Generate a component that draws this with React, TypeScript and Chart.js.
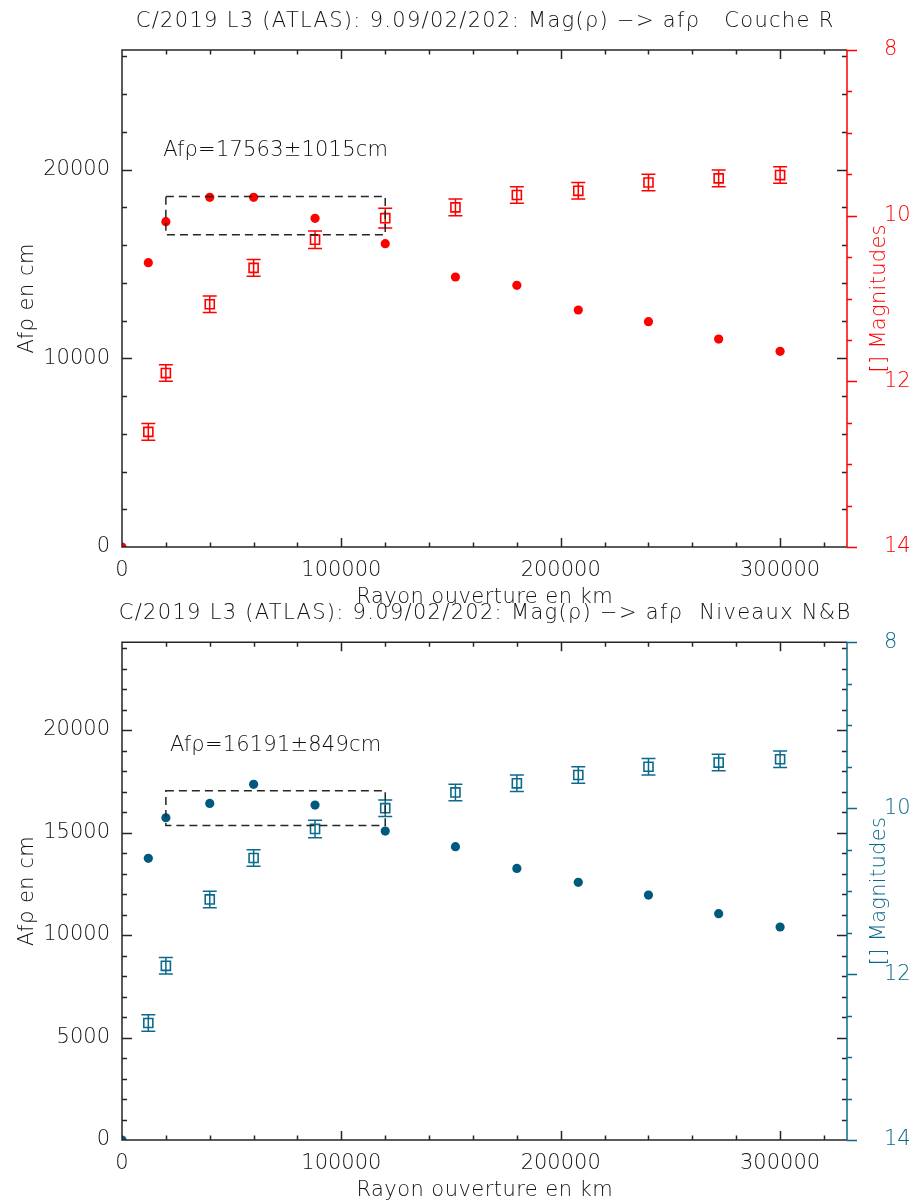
import React, { useEffect, useRef } from 'react';
import { Chart, registerables } from 'chart.js';

Chart.register(...registerables);

const FONT_FAMILY = '"DejaVu Sans", "Liberation Sans", sans-serif';
const FONT_SIZE = 21;
const FONT_WEIGHT = '300';
const TEXT_COLOR = '#111111';
const AXIS_COLOR = '#262626';

// aperture radius (km)
const radiusKm = [12000, 20000, 40000, 60000, 88000, 120000, 152000, 180000, 208000, 240000, 272000, 300000];

// Panel 1 : Couche R
const afrhoR = [15070, 17240, 18530, 18530, 17420, 16075, 14310, 13870, 12560, 11940, 11020, 10370];
const magR = [12.61, 11.9, 11.07, 10.63, 10.29, 10.03, 9.9, 9.75, 9.7, 9.6, 9.55, 9.51];
const magErrR = [0.1, 0.1, 0.1, 0.1, 0.105, 0.12, 0.1, 0.1, 0.1, 0.1, 0.1, 0.1];
const meanR = 17563;
const sigmaR = 1015;

// Panel 2 : Niveaux N&B
const afrhoNB = [13740, 15720, 16420, 17350, 16340, 15070, 14310, 13250, 12570, 11950, 11040, 10390];
const magNB = [12.59, 11.9, 11.1, 10.6, 10.25, 10.0, 9.81, 9.7, 9.6, 9.5, 9.45, 9.41];
const magErrNB = [0.1, 0.1, 0.1, 0.1, 0.105, 0.1, 0.1, 0.1, 0.1, 0.1, 0.1, 0.1];
const meanNB = 16191;
const sigmaNB = 849;

// origin point plotted by the original software
const originX = [0];
const originY = [0];

// fit window (km)
const fitRange = [20000, 120000];

// tick labels
const xTickLabels = [0, 100000, 200000, 300000];
const yTickLabelsR = [0, 10000, 20000];
const yTickLabelsNB = [0, 5000, 10000, 15000, 20000];
const magTickLabels = [8, 10, 12, 14];

// axes
const xMax = 330500;
const xMajorStep = 100000;
const xMinorStep = 20000;
const magMin = 8;
const magMax = 14;
const magMajorStep = 2;
const magMinorStep = 0.5;

const titleR = 'C/2019 L3 (ATLAS): 9.09/02/202: Mag(\u03c1) \u2212> af\u03c1   Couche R';
const titleNB = 'C/2019 L3 (ATLAS): 9.09/02/202: Mag(\u03c1) \u2212> af\u03c1  Niveaux N&B';
const xTitle = 'Rayon ouverture en km';
const yTitle = 'Af\u03c1 en cm';
const y2Title = '[] Magnitudes';

type Panel = {
  height: number;
  top: number;
  bottom: number;
  title: string;
  afrho: number[];
  mag: number[];
  err: number[];
  mean: number;
  sigma: number;
  yMax: number;
  yMajor: number;
  yMinor: number;
  yLabels: number[];
  color: string;
  dotColor: string;
};

const font = () => `${FONT_WEIGHT} ${FONT_SIZE}px ${FONT_FAMILY}`;

function fillSpaced(ctx: any, text: string, x: number, y: number, spacing: number) {
  ctx.save();
  if ('letterSpacing' in ctx) {
    ctx.letterSpacing = `${spacing}px`;
    // centred text: compensate trailing spacing
    ctx.fillText(text, x + spacing / 2, y);
  } else {
    ctx.fillText(text, x, y);
  }
  ctx.restore();
}

function makeDecor(p: Panel) {
  return {
    id: 'decor',
    afterDatasetsDraw(chart: any) {
      const ctx = chart.ctx;
      const xs = chart.scales.x;
      const yl = chart.scales.y;
      const yr = chart.scales.y2;
      ctx.save();
      // error bars on magnitudes
      ctx.strokeStyle = p.color;
      ctx.lineWidth = 1.5;
      p.mag.forEach((m, i) => {
        const px = xs.getPixelForValue(radiusKm[i]);
        const a = yr.getPixelForValue(m - p.err[i]);
        const b = yr.getPixelForValue(m + p.err[i]);
        ctx.beginPath();
        ctx.moveTo(px, a);
        ctx.lineTo(px, b);
        ctx.moveTo(px - 7, a);
        ctx.lineTo(px + 7, a);
        ctx.moveTo(px - 7, b);
        ctx.lineTo(px + 7, b);
        ctx.stroke();
      });
      // dashed box : mean +/- sigma over the fit window
      const x0 = xs.getPixelForValue(fitRange[0]);
      const x1 = xs.getPixelForValue(fitRange[1]);
      const yTop = yl.getPixelForValue(p.mean + p.sigma);
      const yBot = yl.getPixelForValue(p.mean - p.sigma);
      ctx.strokeStyle = AXIS_COLOR;
      ctx.lineWidth = 1.5;
      ctx.setLineDash([8, 5]);
      ctx.beginPath();
      ctx.rect(x0, yTop, x1 - x0, yBot - yTop);
      ctx.stroke();
      ctx.setLineDash([]);
      // annotation
      ctx.fillStyle = TEXT_COLOR;
      ctx.font = font();
      ctx.textAlign = 'center';
      ctx.textBaseline = 'alphabetic';
      fillSpaced(ctx, `Af\u03c1=${p.mean}\u00b1${p.sigma}cm`, (x0 + x1) / 2, yTop - 40, 0.2);
      ctx.restore();
    },
    afterDraw(chart: any) {
      const ctx = chart.ctx;
      const a = chart.chartArea;
      const xs = chart.scales.x;
      const yl = chart.scales.y;
      const yr = chart.scales.y2;
      ctx.save();
      ctx.lineWidth = 1.5;
      ctx.strokeStyle = AXIS_COLOR;
      // box (left, top, bottom)
      ctx.beginPath();
      ctx.moveTo(a.right, a.top);
      ctx.lineTo(a.left, a.top);
      ctx.lineTo(a.left, a.bottom);
      ctx.lineTo(a.right, a.bottom);
      ctx.stroke();
      // x ticks (bottom and top, inward)
      ctx.beginPath();
      for (let v = xMinorStep; v <= xMax; v += xMinorStep) {
        const px = Math.round(xs.getPixelForValue(v)) + 0.5;
        const len = v % xMajorStep === 0 ? 9 : 4.5;
        ctx.moveTo(px, a.bottom);
        ctx.lineTo(px, a.bottom - len);
        ctx.moveTo(px, a.top);
        ctx.lineTo(px, a.top + len);
      }
      // left-axis ticks (left and right side, inward)
      for (let v = p.yMinor; v <= yl.max; v += p.yMinor) {
        const py = Math.round(yl.getPixelForValue(v)) + 0.5;
        const len = v % p.yMajor === 0 ? 10 : 5;
        ctx.moveTo(a.left, py);
        ctx.lineTo(a.left + len, py);
        ctx.moveTo(a.right, py);
        ctx.lineTo(a.right - len, py);
      }
      ctx.stroke();
      // right magnitude axis
      ctx.strokeStyle = p.color;
      ctx.beginPath();
      ctx.moveTo(a.right, a.top);
      ctx.lineTo(a.right, a.bottom);
      for (let v = magMin; v <= magMax + 1e-9; v += magMinorStep) {
        const py = Math.round(yr.getPixelForValue(v)) + 0.5;
        const len = Math.abs(v % magMajorStep) < 1e-9 ? 10 : 5;
        ctx.moveTo(a.right, py);
        ctx.lineTo(a.right + len, py);
      }
      ctx.stroke();
      // titles
      ctx.font = font();
      ctx.fillStyle = TEXT_COLOR;
      ctx.textAlign = 'center';
      ctx.textBaseline = 'alphabetic';
      const cx = (a.left + a.right) / 2;
      const cy = (a.top + a.bottom) / 2;
      fillSpaced(ctx, p.title, cx, a.top - 23, 1.3);
      fillSpaced(ctx, xTitle, cx, a.bottom + 55.5, 0.45);
      ctx.save();
      ctx.translate(32.5, cy);
      ctx.rotate(-Math.PI / 2);
      fillSpaced(ctx, yTitle, 0, 0, 0.5);
      ctx.restore();
      ctx.save();
      ctx.translate(885, cy);
      ctx.rotate(-Math.PI / 2);
      ctx.fillStyle = p.color;
      fillSpaced(ctx, y2Title, 0, 0, 0.3);
      ctx.restore();
      ctx.restore();
    },
  };
}

function makeChart(canvas: HTMLCanvasElement, p: Panel) {
  const tickFont = { family: FONT_FAMILY, size: FONT_SIZE, weight: FONT_WEIGHT };
  const fixTicks = (values: number[]) => (s: any) => {
    s.ticks = values.map((value) => ({ value }));
  };
  return new Chart(canvas, {
    type: 'scatter',
    data: {
      datasets: [
        {
          label: 'Af\u03c1',
          data: radiusKm.map((x, i) => ({ x, y: p.afrho[i] })),
          yAxisID: 'y',
          pointStyle: 'circle',
          pointRadius: 4.6,
          pointBorderWidth: 0,
          backgroundColor: p.dotColor,
          borderColor: p.dotColor,
          clip: 0,
        },
        {
          label: 'origin',
          data: originX.map((x, i) => ({ x, y: originY[i] })),
          yAxisID: 'y',
          pointStyle: 'circle',
          pointRadius: 4.6,
          pointBorderWidth: 0,
          backgroundColor: p.dotColor,
          borderColor: p.dotColor,
          clip: 0,
        },
        {
          label: 'Magnitudes',
          data: radiusKm.map((x, i) => ({ x, y: p.mag[i] })),
          yAxisID: 'y2',
          pointStyle: 'rect',
          pointRadius: 6.4,
          pointBorderWidth: 1.6,
          backgroundColor: 'rgba(0,0,0,0)',
          borderColor: p.color,
        },
      ],
    } as any,
    options: {
      responsive: false,
      animation: false,
      events: [],
      layout: { padding: { top: p.top, left: 0, right: 0, bottom: 0 } },
      plugins: {
        legend: { display: false },
        title: { display: false },
        tooltip: { enabled: false },
      },
      scales: {
        x: {
          type: 'linear',
          position: 'bottom',
          min: 0,
          max: xMax,
          grid: { display: false, drawTicks: false },
          border: { display: false },
          afterBuildTicks: fixTicks(xTickLabels),
          ticks: {
            autoSkip: false,
            maxRotation: 0,
            padding: 11,
            color: TEXT_COLOR,
            font: tickFont,
            callback: (v: any) => String(v),
          },
          afterFit: (s: any) => {
            s.height = p.height - p.bottom;
          },
        },
        y: {
          type: 'linear',
          position: 'left',
          min: 0,
          max: p.yMax,
          grid: { display: false, drawTicks: false },
          border: { display: false },
          afterBuildTicks: fixTicks(p.yLabels),
          ticks: {
            autoSkip: false,
            padding: 12,
            color: TEXT_COLOR,
            font: tickFont,
            callback: (v: any) => String(v),
          },
          afterFit: (s: any) => {
            s.width = 122;
          },
        },
        y2: {
          type: 'linear',
          position: 'right',
          min: magMin,
          max: magMax,
          reverse: true,
          grid: { display: false, drawTicks: false },
          border: { display: false },
          afterBuildTicks: fixTicks(magTickLabels),
          ticks: {
            autoSkip: false,
            padding: 37,
            color: p.color,
            font: tickFont,
            callback: (v: any) => String(v),
          },
          afterFit: (s: any) => {
            s.width = 920 - 847;
          },
        },
      },
    } as any,
    plugins: [makeDecor(p) as any],
  });
}

const panelR: Panel = {
  height: 612,
  top: 50,
  bottom: 547,
  title: titleR,
  afrho: afrhoR,
  mag: magR,
  err: magErrR,
  mean: meanR,
  sigma: sigmaR,
  yMax: 26340,
  yMajor: 10000,
  yMinor: 2000,
  yLabels: yTickLabelsR,
  color: '#ff0000',
  dotColor: '#ff0000',
};

const panelNB: Panel = {
  height: 614,
  top: 52.3,
  bottom: 550,
  title: titleNB,
  afrho: afrhoNB,
  mag: magNB,
  err: magErrNB,
  mean: meanNB,
  sigma: sigmaNB,
  yMax: 24280,
  yMajor: 5000,
  yMinor: 1000,
  yLabels: yTickLabelsNB,
  color: '#0b6a8c',
  dotColor: '#005a7d',
};

export default function App() {
  const ref1 = useRef<HTMLCanvasElement>(null);
  const ref2 = useRef<HTMLCanvasElement>(null);
  useEffect(() => {
    const c1 = makeChart(ref1.current as HTMLCanvasElement, panelR);
    const c2 = makeChart(ref2.current as HTMLCanvasElement, panelNB);
    return () => {
      c1.destroy();
      c2.destroy();
    };
  }, []);
  return (
    <div style={{ position: 'absolute', left: 0, top: 0, width: 920, height: 1204, background: '#ffffff' }}>
      <canvas ref={ref1} width={920} height={612} style={{ position: 'absolute', left: 0, top: 0 }} />
      <canvas ref={ref2} width={920} height={614} style={{ position: 'absolute', left: 0, top: 590 }} />
    </div>
  );
}
